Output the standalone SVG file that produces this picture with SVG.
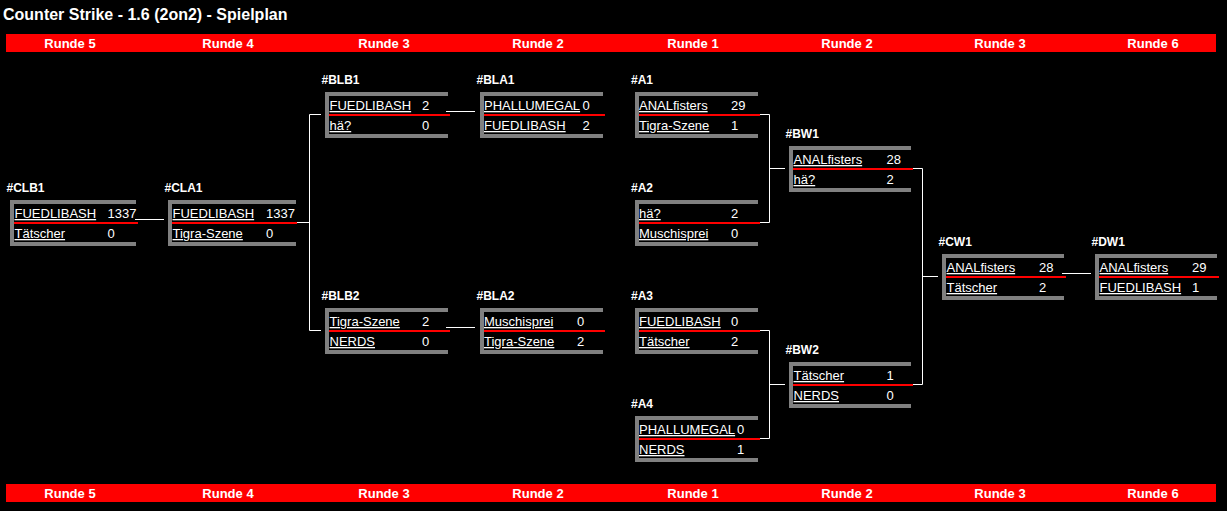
<svg xmlns="http://www.w3.org/2000/svg" width="1227" height="511" viewBox="0 0 1227 511">
<style>
text{font-family:"Liberation Sans",Arial,Helvetica,sans-serif;fill:#fff}
.title{font-size:16px;font-weight:bold}
.hd{font-size:13px;font-weight:bold;text-anchor:middle}
.lbl{font-size:12px;font-weight:bold}
.t{font-size:13px;text-decoration:underline}
.s{font-size:13px}
.g{fill:#808080}
.r{fill:#ff0000}
.bar{fill:#ff0000}
.c{fill:none;stroke:#fff;stroke-width:1}
</style>
<defs>
<g id="frame123"><rect class="g" x="0" y="0" width="123" height="4"/><rect class="g" x="0" y="0" width="4" height="46"/><rect class="g" x="0" y="42" width="123" height="4"/><rect class="r" x="4" y="22" width="121" height="2"/></g>
<g id="frame122"><rect class="g" x="0" y="0" width="122" height="4"/><rect class="g" x="0" y="0" width="4" height="46"/><rect class="g" x="0" y="42" width="122" height="4"/><rect class="r" x="4" y="22" width="120" height="2"/></g>
<g id="frame126"><rect class="g" x="0" y="0" width="126" height="4"/><rect class="g" x="0" y="0" width="4" height="46"/><rect class="g" x="0" y="42" width="126" height="4"/><rect class="r" x="4" y="22" width="124" height="2"/></g>
<g id="frame128"><rect class="g" x="0" y="0" width="128" height="4"/><rect class="g" x="0" y="0" width="4" height="46"/><rect class="g" x="0" y="42" width="128" height="4"/><rect class="r" x="4" y="22" width="125" height="2"/></g>
</defs>
<rect x="0" y="0" width="1227" height="511" fill="#000"/>
<text class="title" x="3" y="19.5">Counter Strike - 1.6 (2on2) - Spielplan</text>
<g id="header-top">
<rect class="bar" x="6" y="34" width="1210" height="18"/>
<text class="hd" x="70" y="47.5">Runde 5</text>
<text class="hd" x="228" y="47.5">Runde 4</text>
<text class="hd" x="384" y="47.5">Runde 3</text>
<text class="hd" x="538" y="47.5">Runde 2</text>
<text class="hd" x="693" y="47.5">Runde 1</text>
<text class="hd" x="847" y="47.5">Runde 2</text>
<text class="hd" x="1000" y="47.5">Runde 3</text>
<text class="hd" x="1153" y="47.5">Runde 6</text>
</g>
<g id="header-bottom">
<rect class="bar" x="6" y="484" width="1210" height="18"/>
<text class="hd" x="70" y="497.5">Runde 5</text>
<text class="hd" x="228" y="497.5">Runde 4</text>
<text class="hd" x="384" y="497.5">Runde 3</text>
<text class="hd" x="538" y="497.5">Runde 2</text>
<text class="hd" x="693" y="497.5">Runde 1</text>
<text class="hd" x="847" y="497.5">Runde 2</text>
<text class="hd" x="1000" y="497.5">Runde 3</text>
<text class="hd" x="1153" y="497.5">Runde 6</text>
</g>
<g id="connectors">
<path class="c" d="M135,219.5H164"/>
<path class="c" d="M446,111.5H475"/>
<path class="c" d="M446,327.5H475"/>
<path class="c" d="M1062,273.5H1091"/>
<path class="c" d="M760,114.5H769.5V222.5H760M769.5,168.5H785"/>
<path class="c" d="M760,330.5H769.5V438.5H760M769.5,384.5H785"/>
<path class="c" d="M913,168.5H922.5V384.5H913M922.5,276.5H938"/>
<path class="c" d="M321,114.5H309.5V330.5H321M309.5,222.5H297"/>
</g>
<g id="CLB1">
<text class="lbl" x="6.5" y="191.5">#CLB1</text>
<use href="#frame126" x="10" y="200"/>
<text class="t" x="14.5" y="218">FUEDLIBASH</text><text class="s" x="107.5" y="218">1337</text>
<text class="t" x="14.5" y="238">Tätscher</text><text class="s" x="107.5" y="238">0</text>
</g>
<g id="CLA1">
<text class="lbl" x="164.5" y="191.5">#CLA1</text>
<use href="#frame128" x="168" y="200"/>
<text class="t" x="172.5" y="218">FUEDLIBASH</text><text class="s" x="266" y="218">1337</text>
<text class="t" x="172.5" y="238">Tigra-Szene</text><text class="s" x="266" y="238">0</text>
</g>
<g id="BLB1">
<text class="lbl" x="321.5" y="83.5">#BLB1</text>
<use href="#frame123" x="325" y="92"/>
<text class="t" x="329.5" y="110">FUEDLIBASH</text><text class="s" x="422" y="110">2</text>
<text class="t" x="329.5" y="130">hä?</text><text class="s" x="422" y="130">0</text>
</g>
<g id="BLA1">
<text class="lbl" x="476.5" y="83.5">#BLA1</text>
<use href="#frame123" x="480" y="92"/>
<text class="t" x="484" y="110">PHALLUMEGAL</text><text class="s" x="582.5" y="110">0</text>
<text class="t" x="484" y="130">FUEDLIBASH</text><text class="s" x="582.5" y="130">2</text>
</g>
<g id="BLB2">
<text class="lbl" x="321.5" y="299.5">#BLB2</text>
<use href="#frame123" x="325" y="308"/>
<text class="t" x="329.5" y="326">Tigra-Szene</text><text class="s" x="422" y="326">2</text>
<text class="t" x="329.5" y="346">NERDS</text><text class="s" x="422" y="346">0</text>
</g>
<g id="BLA2">
<text class="lbl" x="476.5" y="299.5">#BLA2</text>
<use href="#frame123" x="480" y="308"/>
<text class="t" x="484" y="326">Muschisprei</text><text class="s" x="577" y="326">0</text>
<text class="t" x="484" y="346">Tigra-Szene</text><text class="s" x="577" y="346">2</text>
</g>
<g id="A1">
<text class="lbl" x="631" y="83.5">#A1</text>
<use href="#frame123" x="635" y="92"/>
<text class="t" x="639" y="110">ANALfisters</text><text class="s" x="731" y="110">29</text>
<text class="t" x="639" y="130">Tigra-Szene</text><text class="s" x="731" y="130">1</text>
</g>
<g id="A2">
<text class="lbl" x="631" y="191.5">#A2</text>
<use href="#frame123" x="635" y="200"/>
<text class="t" x="639" y="218">hä?</text><text class="s" x="731" y="218">2</text>
<text class="t" x="639" y="238">Muschisprei</text><text class="s" x="731" y="238">0</text>
</g>
<g id="A3">
<text class="lbl" x="631" y="299.5">#A3</text>
<use href="#frame123" x="635" y="308"/>
<text class="t" x="639" y="326">FUEDLIBASH</text><text class="s" x="731" y="326">0</text>
<text class="t" x="639" y="346">Tätscher</text><text class="s" x="731" y="346">2</text>
</g>
<g id="A4">
<text class="lbl" x="631" y="407.5">#A4</text>
<use href="#frame123" x="635" y="416"/>
<text class="t" x="639" y="434">PHALLUMEGAL</text><text class="s" x="737" y="434">0</text>
<text class="t" x="639" y="454">NERDS</text><text class="s" x="737" y="454">1</text>
</g>
<g id="BW1">
<text class="lbl" x="785.5" y="137.5">#BW1</text>
<use href="#frame122" x="789" y="146"/>
<text class="t" x="793.5" y="164">ANALfisters</text><text class="s" x="886.5" y="164">28</text>
<text class="t" x="793.5" y="184">hä?</text><text class="s" x="886.5" y="184">2</text>
</g>
<g id="BW2">
<text class="lbl" x="785.5" y="353.5">#BW2</text>
<use href="#frame122" x="789" y="362"/>
<text class="t" x="793.5" y="380">Tätscher</text><text class="s" x="886.5" y="380">1</text>
<text class="t" x="793.5" y="400">NERDS</text><text class="s" x="886.5" y="400">0</text>
</g>
<g id="CW1">
<text class="lbl" x="938.5" y="245.5">#CW1</text>
<use href="#frame122" x="942" y="254"/>
<text class="t" x="946.5" y="272">ANALfisters</text><text class="s" x="1039" y="272">28</text>
<text class="t" x="946.5" y="292">Tätscher</text><text class="s" x="1039" y="292">2</text>
</g>
<g id="DW1">
<text class="lbl" x="1091.5" y="245.5">#DW1</text>
<use href="#frame122" x="1095" y="254"/>
<text class="t" x="1099.5" y="272">ANALfisters</text><text class="s" x="1192" y="272">29</text>
<text class="t" x="1099.5" y="292">FUEDLIBASH</text><text class="s" x="1192" y="292">1</text>
</g>
</svg>
